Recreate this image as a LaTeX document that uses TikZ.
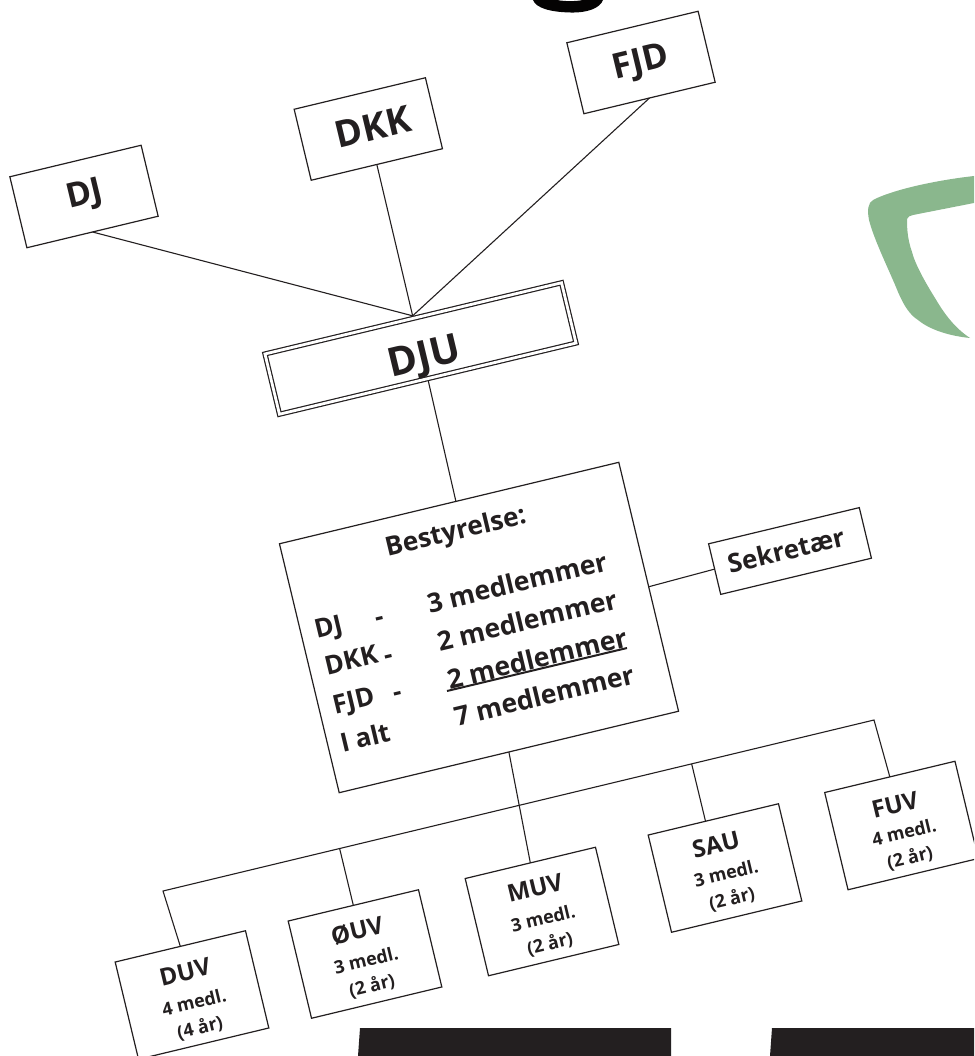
\documentclass[tikz,border=0pt]{standalone}
\usepackage{fontspec}
\setmainfont{Open Sans}
\usetikzlibrary{calc}
\definecolor{ink}{HTML}{231F20}
\definecolor{shield}{HTML}{8AB78D}
\newcommand{\lab}[4]{\node[txt,font=\bfseries\fontsize{#2}{#2}\selectfont] (#1) at (#3) {#4};}
\tikzset{
  txt/.style={rotate=13.5,inner sep=0pt,outer sep=0pt,text=ink,anchor=center},
  box/.style={draw=ink,line width=1.2pt,rotate=13.5,inner sep=0pt,outer sep=0pt,fill=white,anchor=center},
  smallbox/.style={box,minimum width=134pt,minimum height=100pt},
  topbox/.style={box,minimum width=135pt,minimum height=73pt},
  link/.style={draw=ink,line width=1.1pt}
}
\begin{document}
\begin{tikzpicture}[x=1pt,y=-1pt]
\path[use as bounding box,clip] (0,0) rectangle (974,1056);
% logo fragments
\fill[shield] (974,176) .. controls (930,181) and (890,191) .. (873,200) .. controls (868,203) and (867,210) .. (869,220)
  .. controls (874,240) and (890,272) .. (898,292) .. controls (904,306) and (910,315) .. (918,320) .. controls (930,330) and (950,336) .. (970,338)
  .. controls (955,328) and (945,315) .. (935,298) .. controls (925,282) and (915,264) .. (912,252) .. controls (907,238) and (907,226) .. (907,219)
  .. controls (908,216) and (910,216) .. (913,215) -- (974,203) -- cycle;
\fill[black!90!ink] (533,0) .. controls (536,8) and (550,12) .. (570,12.5) .. controls (588,13) and (600,8) .. (603,0) -- (583,0) .. controls (575,1.5) and (565,1.5) .. (557,0) -- cycle;
\fill[ink] (360,1028) -- (671,1028) -- (671,1056) -- (358,1056) -- cycle;
\fill[ink] (772,1028) -- (974,1028) -- (974,1056) -- (770,1056) -- cycle;
% boxes
\node[topbox] (dj) at (84,196.5) {};
\node[topbox] (dkk) at (368.3,129) {};
\node[topbox] (fjd) at (641,62.5) {};
\node[box,minimum width=305pt,minimum height=62pt,line width=1.2pt,double=white,double distance=2.8pt,outer sep=2.6pt] (dju) at (420.5,348.5) {};
\node[box,minimum width=349pt,minimum height=256pt] (best) at (479,627.5) {};
\node[box,minimum width=155pt,minimum height=52pt] (sek) at (790,551) {};
\node[smallbox] (duv) at (192,995) {};
\node[smallbox] (ouv) at (365,954) {};
\node[smallbox] (muv) at (542,911.5) {};
\node[smallbox] (sau) at (725,868) {};
\node[smallbox] (fuv) at (901.5,825.5) {};
% connectors
\coordinate (busL) at (163,891);
\coordinate (busR) at (874,720);
\draw[link] (dj.south) -- (dju.north);
\draw[link] (dkk.south) -- (dju.north);
\draw[link] (fjd.south) -- (dju.north);
\draw[link] (dju.south) -- ($(best.north west)!.52!(best.north east)$);
\draw[link] (best.east) -- (sek.west);
\draw[link] (duv.north) -- (busL) -- (busR) -- (fuv.north);
\draw[link] (best.south) -- ($(muv.north west)!.5!(muv.north east)$);
\draw[link] (ouv.north) -- ($(busL)!(ouv.north)!(busR)$);
\coordinate (sautop) at ($(sau.north west)!.44!(sau.north east)$);
\draw[link] (sautop) -- ($(busL)!(sautop)!(busR)$);
% texts
\lab{tdj}{34}{85,196}{DJ}
\lab{tdkk}{37}{373,127}{DKK}
\lab{tfjd}{35}{641,64}{FJD}
\lab{tdju}{40}{425,359}{DJU}
\lab{tsek}{26}{786,550}{Sekretær}
\lab{tbest}{26.3}{456,533}{Bestyrelse:}
\lab{m1}{26.5}{517,582}{3 medlemmer}
\lab{m2}{26.5}{527,620}{2 medlemmer}
\lab{m3}{26.5}{537,658}{2 medlemmer}
\lab{m4}{26.5}{544,695}{7 medlemmer}
\coordinate (ulA) at (447,691);
\coordinate (ulB) at (627,648);
\draw[draw=ink,line width=2pt] (ulA) -- (ulB);
\lab{a1}{26}{329,629}{DJ}
\lab{d1}{26}{380,621}{-}
\lab{a2}{26}{351,660}{DKK}
\lab{d2}{26}{389,659}{-}
\lab{a3}{26}{354,703}{FJD}
\lab{d3}{26}{398,696}{-}
\lab{a4}{26}{365,737}{I alt}
\lab{n1}{24}{185,972}{DUV}
\lab{n1a}{18}{194,1002}{4 medl.}
\lab{n1b}{18}{200,1028}{(4 år)}
\lab{n2}{24}{357,931}{ØUV}
\lab{n2a}{18}{366,960}{3 medl.}
\lab{n2b}{18}{372,986}{(2 år)}
\lab{n3}{24}{535,888}{MUV}
\lab{n3a}{18}{543,918}{3 medl.}
\lab{n3b}{18}{550,944}{(2 år)}
\lab{n4}{24}{716,845}{SAU}
\lab{n4a}{18}{726,873}{3 medl.}
\lab{n4b}{18}{732,899}{(2 år)}
\lab{n5}{24}{895,805}{FUV}
\lab{n5a}{18}{904,832}{4 medl.}
\lab{n5b}{18}{910,858}{(2 år)}
\end{tikzpicture}
\end{document}
